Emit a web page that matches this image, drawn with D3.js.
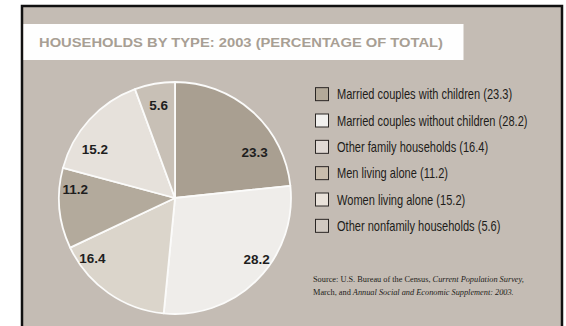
<!DOCTYPE html>
<html>
<head>
<meta charset="utf-8">
<script src="https://cdn.jsdelivr.net/npm/d3@7"></script>
<style>
  html, body { margin: 0; padding: 0; background: #fff; }
  svg { display: block; }
</style>
</head>
<body>
<svg id="chart" width="566" height="326"></svg>
<script>
"use strict";

// chart data
var categories = [
  "Married couples with children",
  "Married couples without children",
  "Other family households",
  "Men living alone",
  "Women living alone",
  "Other nonfamily households"
];
var shares = [23.3, 28.2, 16.4, 11.2, 15.2, 5.6];
var sliceColors = ["#a99f91", "#efedea", "#dbd5cb", "#b3aa9c", "#e6e1db", "#c8c0b6"];
var legendColors = ["#b3a999", "#f1f0ee", "#e0d9d4", "#c9bdad", "#e9e2da", "#d1c9c1"];
var titleText = "HOUSEHOLDS BY TYPE: 2003 (PERCENTAGE OF TOTAL)";

var svg = d3.select("#chart");

// frame + background
svg.append("rect")
  .attr("x", 22).attr("y", 6)
  .attr("width", 540).attr("height", 330)
  .attr("fill", "#c4bcb4")
  .attr("stroke", "#111")
  .attr("stroke-width", 2.5);

// title band
svg.append("rect")
  .attr("x", 23.5).attr("y", 24)
  .attr("width", 440).attr("height", 36)
  .attr("fill", "#fefefe");

svg.append("text")
  .attr("x", 39).attr("y", 46.5)
  .attr("font-family", "Liberation Sans, Arial, sans-serif")
  .attr("font-weight", "bold")
  .attr("font-size", 12.5)
  .attr("fill", "#a89f94")
  .attr("textLength", 404)
  .attr("lengthAdjust", "spacingAndGlyphs")
  .text(titleText);

// pie
var cx = 175, cy = 198, radius = 116;
var g = svg.append("g").attr("transform", "translate(" + cx + "," + cy + ")");

var pie = d3.pie().sort(null).value(function (d) { return d; });
var arcs = pie(shares);
var arc = d3.arc().innerRadius(0).outerRadius(radius);

g.selectAll("path.slice")
  .data(arcs)
  .enter()
  .append("path")
  .attr("class", "slice")
  .attr("d", arc)
  .attr("fill", function (d, i) { return sliceColors[i]; })
  .attr("stroke", "#fbfbfa")
  .attr("stroke-width", 1.8)
  .attr("stroke-linejoin", "round");

// labels sit off the middle of each slice a bit, like the original
var labelShift = [18, -8, 19, 10, -11, 0]; // degrees
var labelR = [92, 102, 102, 100, 94, 94];
g.selectAll("text.val")
  .data(arcs)
  .enter()
  .append("text")
  .attr("class", "val")
  .attr("transform", function (d, i) {
    var a = (d.startAngle + d.endAngle) / 2 + labelShift[i] * Math.PI / 180;
    return "translate(" + (labelR[i] * Math.sin(a)) + "," + (-labelR[i] * Math.cos(a)) + ")";
  })
  .attr("text-anchor", "middle")
  .attr("dy", "0.36em")
  .attr("font-family", "Liberation Sans, Arial, sans-serif")
  .attr("font-weight", "bold")
  .attr("font-size", 13.5)
  .attr("fill", "#1e1e1e")
  .text(function (d) { return d3.format(".1f")(d.value); });

// legend
var legendY = d3.scaleBand()
  .domain(d3.range(categories.length))
  .range([81, 239]);

var leg = svg.selectAll("g.leg")
  .data(categories)
  .enter()
  .append("g")
  .attr("class", "leg")
  .attr("transform", function (d, i) {
    return "translate(315," + (legendY(i) + legendY.bandwidth() / 2) + ")";
  });

leg.append("rect")
  .attr("x", 0.5).attr("y", -6.5)
  .attr("width", 13).attr("height", 13)
  .attr("fill", function (d, i) { return legendColors[i]; })
  .attr("stroke", "#2a2624")
  .attr("stroke-width", 1);

// no narrow font installed, so squeeze the regular one
leg.append("g")
  .attr("transform", "translate(22,0) scale(0.79,1)")
  .append("text")
  .attr("dy", "0.36em")
  .attr("font-family", "Liberation Sans, Arial, sans-serif")
  .attr("font-size", 14)
  .attr("fill", "#1e1c1a")
  .text(function (d, i) { return d + " (" + shares[i] + ")"; });

// source note
var src = svg.append("text")
  .attr("x", 313).attr("y", 282)
  .attr("font-family", "Liberation Serif, Times New Roman, serif")
  .attr("font-size", 8.3)
  .attr("fill", "#1e1c1a");
src.append("tspan").text("Source: U.S. Bureau of the Census, ");
src.append("tspan").attr("font-style", "italic").text("Current Population Survey,");
var src2 = svg.append("text")
  .attr("x", 313).attr("y", 295)
  .attr("font-family", "Liberation Serif, Times New Roman, serif")
  .attr("font-size", 8.3)
  .attr("fill", "#1e1c1a");
src2.append("tspan").text("March, and ");
src2.append("tspan").attr("font-style", "italic").text("Annual Social and Economic Supplement: 2003.");
</script>
</body>
</html>
